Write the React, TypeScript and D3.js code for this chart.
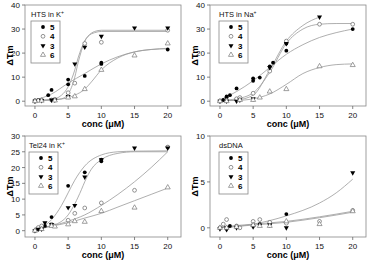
import React from 'react';
import * as d3 from 'd3';

type Pt = [number, number];

// ---- data ----
const concTicks = [0, 5, 10, 15, 20];
const seriesNames = ['5', '4', '3', '6'];

// HTS in K+
const htsK5: Pt[] = [[0, 0.3], [0.5, 0.5], [1, 0.5], [2, 2.5], [2.5, 4.7], [5, 7], [5, 9], [7.5, 10.5], [10, 15.5], [10, 16], [20, 21.5]];
const htsK4: Pt[] = [[0, 0], [0.5, 0.3], [1, 0.5], [2.5, 0.5], [3, 0.8], [5, 3.5], [6, 7.5], [7.5, 24], [10, 24.5], [20, 29.5]];
const htsK3: Pt[] = [[0, 0], [1, 0.3], [2.5, 0.5], [3, 0.5], [5, 2], [6, 15.5], [7.5, 22.5], [10, 27], [15, 30.5], [20, 30.5]];
const htsK6: Pt[] = [[0, 0], [1, 0.2], [3, 0.3], [5, 1.5], [6, 2], [7.5, 5], [10, 13], [15, 19], [20, 24]];
const htsKFit5: Pt[] = [[0, 0.5], [2.5, 3], [5, 7.5], [7.5, 11.5], [10, 15.5], [12.5, 18.5], [15, 20.5], [17.5, 21.5], [20, 22]];
const htsKFit4: Pt[] = [[0, 0.3], [2.5, 0.5], [4, 1], [5, 3], [6, 10], [6.5, 16], [7, 21], [7.5, 25], [8, 27], [9, 28.5], [10, 29], [15, 29], [20, 29]];
const htsKFit3: Pt[] = [[0, 0.3], [2.5, 0.7], [4, 2.5], [5, 6], [5.5, 9], [6, 13], [6.5, 18], [7, 22], [7.5, 25], [8, 27], [9, 29], [10, 29.5], [20, 29.5]];
const htsKFit6: Pt[] = [[0, 0.3], [2.5, 0.5], [5, 1.5], [6, 2.5], [7.5, 5], [8.5, 8], [10, 13], [12.5, 18], [15, 20.5], [17.5, 21.5], [20, 21.8]];

// HTS in Na+
const htsNa5: Pt[] = [[0, 0], [0.5, 0.5], [1, 1.5], [1, 2], [1.5, 2.5], [2.5, 5.3], [5, 8.5], [5, 9.5], [6, 9.8], [7.5, 14.5], [8, 16], [10, 21], [10, 24], [20, 30]];
const htsNa4: Pt[] = [[0, 0], [1, 0.3], [2.5, 1], [3, 1.5], [5, 3.3], [7.5, 12.5], [10, 25], [15, 32], [20, 32]];
const htsNa3: Pt[] = [[0, 0], [1, 0], [2.5, 0], [3, 0.5], [5, 1], [7.5, 14], [10, 24], [15, 35]];
const htsNa6: Pt[] = [[0, 0], [1, 0], [3, 0.5], [5, 0.5], [6, 1.5], [7.5, 4], [10, 5], [15, 14.5], [20, 15]];
const htsNaFit5: Pt[] = [[0, 0.5], [2.5, 4], [5, 8.5], [7.5, 14], [10, 19.5], [12.5, 23.5], [15, 26.5], [17.5, 28.5], [20, 30]];
const htsNaFit4: Pt[] = [[0, 0.3], [2.5, 1], [5, 3.5], [7.5, 12], [10, 24], [12.5, 30], [15, 32], [17.5, 32.3], [20, 32.3]];
const htsNaFit3: Pt[] = [[0, 0.2], [2.5, 0.5], [5, 2.5], [7.5, 13], [10, 25], [12.5, 31.5], [15, 35]];
const htsNaFit6: Pt[] = [[0, 0.2], [2.5, 0.3], [5, 1], [7.5, 3], [10, 7], [12.5, 11.5], [15, 14], [17.5, 15.2], [20, 15.5]];

// Tel24 in K+
const tel5: Pt[] = [[0, 0], [0.5, 0.5], [1, 1], [1.5, 1.5], [2.5, 4.3], [5, 14.2], [7.5, 18.5], [10, 22], [10, 22.5], [20, 26.5]];
const tel4: Pt[] = [[0, 0], [0.5, 1], [1, 1.5], [2.5, 2], [5, 3.3], [6, 5.5], [7.5, 7.2], [10, 8.8], [15, 12.8], [20, 26.5]];
const tel3: Pt[] = [[0, 0], [0.5, 0.5], [1, 0.5], [1.5, 2.5], [2.5, 2], [5, 7.3], [6, 8], [7.5, 17], [10, 22.5], [15, 26.2], [20, 26.2]];
const tel6: Pt[] = [[0, 0], [1, 0.5], [2.5, 1.5], [3, 1.3], [5, 2], [6, 3], [7.5, 2.8], [10, 6.2], [15, 7.3], [20, 13.7]];
const telFit5: Pt[] = [[0, 0.5], [2.5, 3.5], [4, 8], [5, 12], [6, 16], [7.5, 20.5], [10, 24], [12.5, 25], [15, 25.2], [20, 25.3]];
const telFit3: Pt[] = [[0, 0.5], [2.5, 1.5], [5, 5], [6, 8.5], [7, 13], [7.5, 15.5], [8.5, 19.5], [10, 22.5], [12.5, 24.5], [15, 25], [20, 25]];
const telFit4: Pt[] = [[0, 0.8], [2.5, 1.5], [5, 3], [7.5, 5], [10, 8], [12.5, 11.5], [15, 15.5], [17.5, 20], [20, 25]];
const telFit6: Pt[] = [[0, 0.8], [2.5, 1.5], [5, 2.5], [7.5, 4], [10, 5.5], [12.5, 7.5], [15, 9.5], [17.5, 11.5], [20, 13.5]];

// dsDNA
const ds5: Pt[] = [[0, 0], [1, 0], [1.5, 0.2], [2.5, 0.2], [5, 0.3], [6, 0.4], [7.5, 0.5], [10, 1.5]];
const ds4: Pt[] = [[0, 0], [0.5, 0.4], [1, 0.9], [2.5, 0.2], [3, 0], [5, 0.7], [6, 0.9], [7.5, 0.6], [10, 0.5], [15, 0.7], [20, 1.9]];
const ds3: Pt[] = [[0, -0.1], [1, -0.2], [1, 0], [2.5, 0], [5, 0.1], [7.5, 0.3], [10, 0], [20, 6]];
const ds6: Pt[] = [[0, 0], [1, 0], [2.5, 0.1], [5, 0.3], [6, 0.2], [7.5, 0.2], [10, 0.7], [15, 0.4], [20, 1.8]];
const dsFit3: Pt[] = [[0, 0], [5, 0.4], [10, 1.3], [15, 2.7], [17.5, 3.8], [20, 5.3]];
const dsFit4: Pt[] = [[0, 0.1], [5, 0.4], [10, 0.7], [15, 1.2], [20, 1.8]];
const dsFit6: Pt[] = [[0, 0], [5, 0.3], [10, 0.6], [15, 1.1], [20, 1.7]];

const W = 156;
const H = 101;
const font = 'Liberation Sans, Arial, sans-serif';

const panels = [
  { x0: 25, y0: 5, title: 'HTS in K', sup: '+', yDomain: [-2, 40], yTicks: [0, 10, 20, 30, 40], legDx: 6,
    series: [htsK5, htsK4, htsK3, htsK6], fits: [htsKFit5, htsKFit4, htsKFit3, htsKFit6] },
  { x0: 210, y0: 5, title: 'HTS in Na', sup: '+', yDomain: [-2, 40], yTicks: [0, 10, 20, 30, 40], legDx: 9,
    series: [htsNa5, htsNa4, htsNa3, htsNa6], fits: [htsNaFit5, htsNaFit4, htsNaFit3, htsNaFit6] },
  { x0: 25, y0: 136, title: 'Tel24 in K', sup: '+', yDomain: [-2, 30], yTicks: [0, 5, 10, 15, 20, 25, 30], legDx: 4,
    series: [tel5, tel4, tel3, tel6], fits: [telFit5, telFit3, telFit4, telFit6] },
  { x0: 210, y0: 136, title: 'dsDNA', sup: '', yDomain: [-1, 10], yTicks: [0, 5, 10], legDx: 9,
    series: [ds5, ds4, ds3, ds6], fits: [dsFit3, dsFit4, dsFit6] },
];

const tri = d3.symbol().type(d3.symbolTriangle).size(11)() as string;

const Marker = ({ kind, x, y }: { kind: number; x: number; y: number }) => {
  if (kind === 0) return <circle cx={x} cy={y} r={1.9} fill="#000" />;
  if (kind === 1) return <circle cx={x} cy={y} r={1.9} fill="#fff" stroke="#666" strokeWidth={0.7} />;
  if (kind === 2) return <path d={tri} transform={`translate(${x},${y}) rotate(180)`} fill="#000" />;
  return <path d={tri} transform={`translate(${x},${y})`} fill="#fff" stroke="#777" strokeWidth={0.7} />;
};

const Panel = ({ p }: { p: (typeof panels)[number] }) => {
  const x = d3.scaleLinear().domain([-1.5, 22]).range([0, W]);
  const y = d3.scaleLinear().domain(p.yDomain).range([H, 0]);
  const line = d3.line<Pt>().x((d) => x(d[0])).y((d) => y(d[1])).curve(d3.curveMonotoneX);
  const lx = p.legDx;
  return (
    <g transform={`translate(${p.x0},${p.y0})`} fontFamily={font} fill="#000">
      <rect x={0} y={0} width={W} height={H} fill="none" stroke="#888" strokeWidth={0.8} />
      {p.yTicks.map((t) => (
        <g key={t}>
          <line x1={-3} x2={0} y1={y(t)} y2={y(t)} stroke="#666" strokeWidth={0.8} />
          <text x={-5} y={y(t) + 3} fontSize={8} textAnchor="end" fill="#111">{t}</text>
        </g>
      ))}
      {concTicks.map((t) => (
        <g key={t}>
          <line x1={x(t)} x2={x(t)} y1={H} y2={H + 3} stroke="#666" strokeWidth={0.8} />
          <text x={x(t)} y={H + 12} fontSize={8} textAnchor="middle" fill="#111">{t}</text>
        </g>
      ))}
      <text x={W / 2} y={H + 21} fontSize={9} fontWeight="bold" textAnchor="middle">conc (μM)</text>
      <text transform={`translate(-12,${H / 2}) rotate(-90)`} fontSize={9} fontWeight="bold" textAnchor="middle">ΔTm</text>
      {p.fits.map((f, i) => (
        <path key={i} d={line(f) as string} fill="none" stroke="#9a9a9a" strokeWidth={0.8} />
      ))}
      {p.series.map((s, k) =>
        s.map((d, i) => <Marker key={`${k}-${i}`} kind={k} x={x(d[0])} y={y(d[1])} />)
      )}
      <text x={lx} y={12} fontSize={7.5} fill="#111">
        {p.title}
        {p.sup && <tspan dy={-3} fontSize={5}>{p.sup}</tspan>}
      </text>
      <rect x={lx} y={16} width={29} height={42} fill="#fff" stroke="#888" strokeWidth={0.8} />
      {seriesNames.map((n, k) => (
        <g key={n}>
          <Marker kind={k} x={lx + 12} y={22 + k * 9.3} />
          <text x={lx + 19} y={25 + k * 9.3} fontSize={8} fontWeight="bold">{n}</text>
        </g>
      ))}
    </g>
  );
};

export default function App() {
  return (
    <svg width={368} height={262} style={{ position: 'absolute', left: 0, top: 0, background: '#fff' }}>
      {panels.map((p, i) => (
        <Panel key={i} p={p} />
      ))}
    </svg>
  );
}
